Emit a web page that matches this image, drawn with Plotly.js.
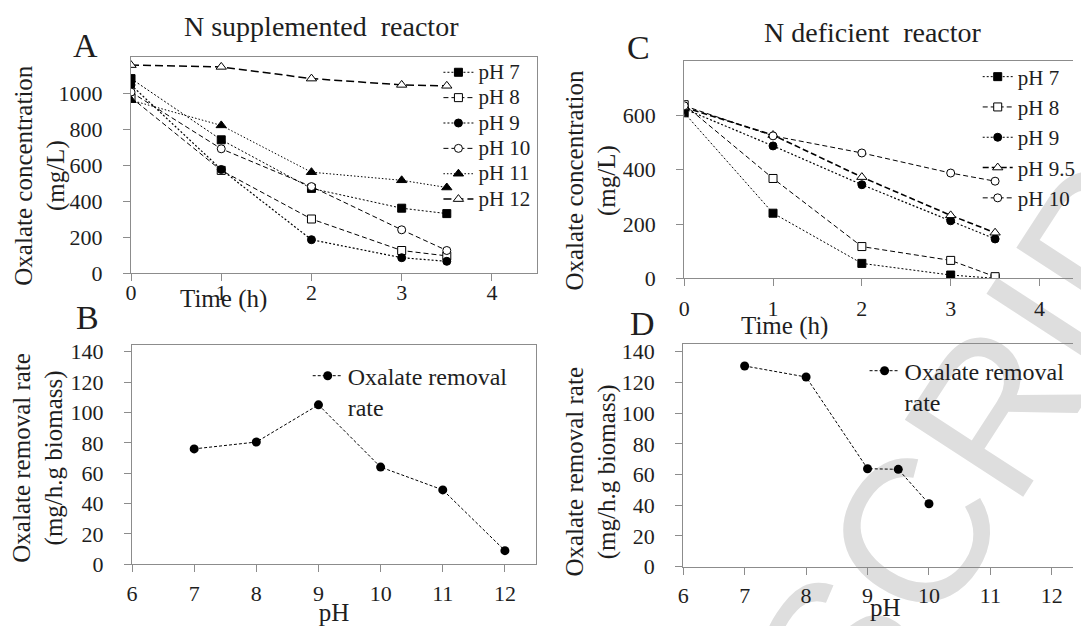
<!DOCTYPE html>
<html>
<head>
<meta charset="utf-8">
<script src="https://cdn.plot.ly/plotly-3.0.1.min.js"></script>
<style>
html,body{margin:0;padding:0;background:#fff;}
#chart{width:1081px;height:626px;}
</style>
</head>
<body>
<div id="chart"></div>
<script>
// ---- Data ----
// Panel A: N supplemented reactor, oxalate concentration (mg/L) vs time (h)
const timeA = [0, 1, 2, 3, 3.5];
const A_pH7  = [1080, 740, 470, 360, 330];
const A_pH8  = [975, 570, 300, 125, 95];
const A_pH9  = [1045, 575, 185, 85, 65];
const A_pH10 = [1005, 690, 480, 240, 125];
const A_pH11 = [960, 820, 560, 515, 475];
const A_pH12 = [1155, 1145, 1080, 1045, 1040];
const seriesNamesA = ["pH 7", "pH 8", "pH 9", "pH 10", "pH 11", "pH 12"];

// Panel C: N deficient reactor
const timeC = [0, 1, 2, 3, 3.5];
const C_pH7  = [610, 240, 55, 12, 0];
const C_pH8  = [640, 368, 117, 66, 6];
const C_pH9  = [625, 488, 345, 212, 145];
const C_pH95 = [630, 528, 373, 232, 168];
const C_pH10 = [636, 525, 462, 388, 358];
const seriesNamesC = ["pH 7", "pH 8", "pH 9", "pH 9.5", "pH 10"];

// Panel B: oxalate removal rate (mg/h.g biomass) vs pH, N supplemented
const pHB = [7, 8, 9, 10, 11, 12];
const rateB = [76, 80.5, 105, 64, 49, 9];
// Panel D: N deficient
const pHD = [7, 8, 9, 9.5, 10];
const rateD = [130.7, 123.5, 63.8, 63.4, 41];

const timeTicks = [0, 1, 2, 3, 4];
const pHTicks = [6, 7, 8, 9, 10, 11, 12];
const concTicksA = [0, 200, 400, 600, 800, 1000];
const concTicksC = [0, 200, 400, 600];
const rateTicks = [0, 20, 40, 60, 80, 100, 120, 140];

const concTitle = "Oxalate concentration<br>(mg/L)";
const rateTitle = "Oxalate removal rate<br>(mg/h.g biomass)";

// ---- Styling ----
const SERIF = "Liberation Serif";
const TXT = "#1e1e1e";
const AX = "#8c8c8c";
const W = 1081, H = 626;
const px = v => v / W;
const py = v => 1 - v / H;
const F = (size, family) => ({family: family || SERIF, size: size, color: TXT});

const sty = {
  "pH 7":   {symbol: "square", fill: "#000", dash: "2px,2px", width: 1, size: 8},
  "pH 8":   {symbol: "square", fill: "#fff", dash: "5px,3px", width: 1, size: 8},
  "pH 9":   {symbol: "circle", fill: "#000", dash: "2px,2px", width: 1.2, size: 8},
  "pH 9.5": {symbol: "triangle-up", fill: "#fff", dash: "6px,3px", width: 1.6, size: 9},
  "pH 10":  {symbol: "circle", fill: "#fff", dash: "5px,3px", width: 1, size: 8},
  "pH 11":  {symbol: "triangle-up", fill: "#000", dash: "1.5px,2px", width: 1, size: 9},
  "pH 12":  {symbol: "triangle-up", fill: "#fff", dash: "8px,4px", width: 1.5, size: 9}
};

function mk(x, y, name, xa, ya, legend, legendSpan, group) {
  const s = sty[name];
  return {
    x: x, y: y, type: "scatter", mode: "lines+markers",
    name: legendSpan ? '<span style="font-size:21px">' + name + '</span>' : name,
    xaxis: xa, yaxis: ya, legend: legend, legendgroup: group,
    line: {color: "#000", width: s.width, dash: s.dash},
    marker: {symbol: s.symbol, size: s.size, color: s.fill, line: {color: "#000", width: 1}},
    hoverinfo: "x+y+name"
  };
}

const valsA = [A_pH7, A_pH8, A_pH9, A_pH10, A_pH11, A_pH12];
const valsC = [C_pH7, C_pH8, C_pH9, C_pH95, C_pH10];

const traces = [];
seriesNamesA.forEach((n, i) => traces.push(mk(timeA, valsA[i], n, "x", "y", "legend", true)));
seriesNamesC.forEach((n, i) => traces.push(mk(timeC, valsC[i], n, "x3", "y3", "legend3", false, "c" + i)));

const rateTrace = (x, y, xa, ya, lg) => ({
  x: x, y: y, type: "scatter", mode: "lines+markers",
  name: "Oxalate removal<br>rate", xaxis: xa, yaxis: ya, legend: lg,
  line: {color: "#000", width: 1, dash: "3px,2px"},
  marker: {symbol: "circle", size: 9, color: "#000"}
});
traces.push(rateTrace(pHB, rateB, "x2", "y2", "legend2"));
traces.push(rateTrace(pHD, rateD, "x4", "y4", "legend4"));

function ax(extra) {
  return Object.assign({
    showline: true, linecolor: AX, linewidth: 1,
    ticks: "outside", ticklen: 7, tickcolor: AX, tickwidth: 1,
    showgrid: false, zeroline: false, tickfont: F(22),
    ticklabelstandoff: 16, fixedrange: true
  }, extra);
}

function ann(text, x, y, size, xref, angle) {
  return {text: text, xref: xref || "paper", yref: "paper", x: x, y: y, textangle: angle || 0,
          xanchor: "center", yanchor: "middle", showarrow: false, font: F(size)};
}

const layout = {
  width: W, height: H,
  margin: {l: 0, r: 0, t: 0, b: 0},
  font: F(22),
  paper_bgcolor: "#fff", plot_bgcolor: "rgba(0,0,0,0)",
  showlegend: true,
  xaxis: ax({domain: [px(132), px(541)], range: [0, 4.5], tickvals: timeTicks, anchor: "y", mirror: true, ticklabelstandoff: -7}),
  yaxis: ax({domain: [py(273), py(57)], range: [0, 1200], tickvals: concTicksA, anchor: "x", mirror: true}),
  xaxis2: ax({domain: [px(133), px(540)], range: [6, 12.5], tickvals: pHTicks, anchor: "y2", mirror: true, ticklabelstandoff: 2,
    title: {text: "pH", font: F(25), standoff: 8}}),
  yaxis2: ax({domain: [py(564.3), py(345)], range: [0, 144.4], tickvals: rateTicks, anchor: "x2", mirror: true}),
  xaxis3: ax({domain: [px(689.3), 1], range: [0, 4.377], tickvals: timeTicks, anchor: "y3", mirror: true, ticklabelstandoff: 3}),
  yaxis3: ax({domain: [py(278.3), py(61)], range: [0, 801], tickvals: concTicksC, anchor: "x3", mirror: false}),
  xaxis4: ax({domain: [px(688.3), 1], range: [6, 12.344], tickvals: pHTicks, anchor: "y4", mirror: true, ticklabelstandoff: 2}),
  yaxis4: ax({domain: [py(566.7), py(344.3)], range: [0, 144.8], tickvals: rateTicks, anchor: "x4", mirror: false}),
  legend:  {x: px(441.7), y: py(54.6), xanchor: "left", yanchor: "top", bgcolor: "rgba(0,0,0,0)", font: F(17.2), tracegroupgap: 0},
  legend3: {x: px(985), y: py(56.5), xanchor: "left", yanchor: "top", bgcolor: "rgba(0,0,0,0)", font: F(21), tracegroupgap: 0},
  legend2: {x: px(310), y: py(353.6), xanchor: "left", yanchor: "top", bgcolor: "rgba(0,0,0,0)", valign: "top", font: F(24)},
  legend4: {x: px(871), y: py(348.6), xanchor: "left", yanchor: "top", bgcolor: "rgba(0,0,0,0)", valign: "top", font: F(24)},
  annotations: [
    ann("N supplemented  reactor", px(324), py(27), 28),
    ann("N deficient  reactor", px(880), py(33), 28),
    ann("A", px(86), py(46), 34),
    ann("B", px(88), py(317), 34),
    ann("C", px(643), py(47), 34),
    ann("D", px(647), py(323), 34),
    ann("Time (h)", 1.03, py(299), 25, "x"),
    ann("Time (h)", 1.13, py(326), 25, "x3"),
    ann("pH", 9.3, py(607), 25, "x4"),
    ann(concTitle, px(40), py(175), 25, "paper", -90),
    ann(concTitle, px(596), py(180), 25, "paper", -90),
    ann(rateTitle, px(38), py(458), 25, "paper", -90),
    ann(rateTitle, px(595), py(472), 25, "paper", -90)
  ],
  shapes: [
    {type: "rect", xref: "paper", yref: "paper", x0: px(895), x1: px(1095), y0: py(485), y1: py(285),
     line: {width: 0}, fillcolor: "rgba(0,0,0,0)", layer: "below",
     label: {text: "SCRIPT", textangle: -57, textposition: "middle center",
             font: {family: "Liberation Sans", size: 205, color: "#dedede"}}}
  ]
};

Plotly.newPlot("chart", traces, layout, {displayModeBar: false, staticPlot: true});
</script>
</body>
</html>
